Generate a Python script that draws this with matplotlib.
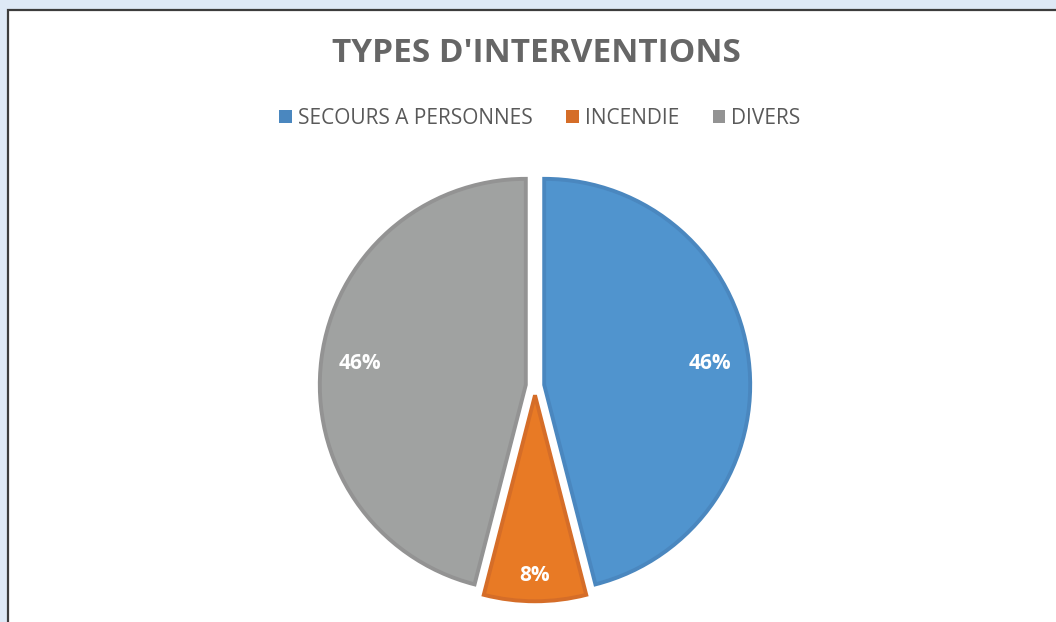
import matplotlib
matplotlib.use("Agg")
import matplotlib.pyplot as plt
import matplotlib.patches as mpatches
import numpy as np

plt.rcParams['font.family'] = ['Open Sans', 'DejaVu Sans']

# data
categories = ['SECOURS A PERSONNES', 'INCENDIE', 'DIVERS']
shares = [46, 8, 46]
title = "TYPES D'INTERVENTIONS"

fill_colors = ['#5094CE', '#E87A25', '#A0A2A1']
edge_colors = ['#4A87BF', '#D56D28', '#939393']

W, H = 1056, 622
fig = plt.figure(figsize=(W / 100, H / 100), dpi=100, facecolor='#DEE9F6')

# white chart area with dark border on the left/top
frame = mpatches.Rectangle((8 / W, -0.1), 1.2, 1 - 10 / H + 0.1,
                           transform=fig.transFigure, facecolor='white',
                           edgecolor='#3C3C3C', linewidth=1.6, zorder=-10)
fig.patches.append(frame)

# pie axes: center at (535, 386) px, radius ~207 px
r_px = 206
size = 2.4 * r_px
cx, cy = 535, H - 386
ax = fig.add_axes([(cx - size / 2) / W, (cy - size / 2) / H, size / W, size / H])

wedges, texts, autotexts = ax.pie(
    shares, startangle=90, counterclock=False, explode=[0.045, 0.045, 0.045],
    colors=fill_colors, autopct='%1.0f%%', pctdistance=0.81,
    wedgeprops=dict(linewidth=2.8, joinstyle='miter'),
    textprops=dict(color='white', fontsize=15, fontweight='bold'))
for w, ec in zip(wedges, edge_colors):
    w.set_edgecolor(ec)
ax.set_xlim(-1.2, 1.2)
ax.set_ylim(-1.2, 1.2)
ax.set_aspect('equal')
ax.axis('off')

# push the small slice's label further out, like Excel does
label_dist = [0.81, 0.875, 0.81]
for w, t, d in zip(wedges, autotexts, label_dist):
    ang = np.deg2rad((w.theta1 + w.theta2) / 2)
    x0, y0 = w.center
    t.set_position((x0 + d * np.cos(ang), y0 + d * np.sin(ang)))

fig.text(536 / W, 1 - 54 / H, title, ha='center', va='center',
         fontsize=24, fontweight='bold', color='#666666')

handles = [mpatches.Patch(facecolor=c, edgecolor='none') for c in edge_colors]
fig.legend(handles, categories, loc='center', bbox_to_anchor=(540 / W, 1 - 118 / H),
           ncol=3, frameon=False, fontsize=15, labelcolor='#595959',
           handlelength=0.6, handleheight=0.6, handletextpad=0.3,
           columnspacing=1.6)

fig.savefig('out.png', dpi=100, facecolor=fig.get_facecolor())
